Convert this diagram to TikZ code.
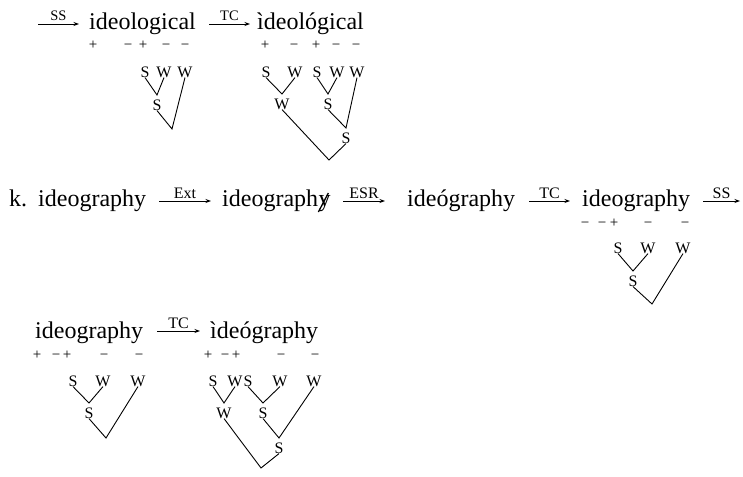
\documentclass[tikz,border=0pt]{standalone}
\usepackage{fontspec}
\setmainfont{Liberation Serif}
\newfontfamily\lblfont{Liberation Serif}
\usetikzlibrary{arrows.meta,calc}
\begin{document}
\begin{tikzpicture}[x=1pt,y=-1pt,
  word/.style={anchor=base west,inner sep=0pt,font=\fontsize{24}{28}\selectfont},
  sgn/.style={anchor=base,inner sep=0pt,font=\lblfont\fontsize{15}{17}\selectfont},
  lab/.style={inner sep=0pt,font=\lblfont\fontsize{16}{18}\selectfont},
  edge/.style={line width=0.9pt},
  rel/.style={line width=0.8pt,-{Stealth[length=5.5pt,width=4pt]}},
  rlaba/.style={anchor=base,inner sep=0pt,yshift=3pt,font=\fontsize{14.5}{16}\selectfont},
  rlabb/.style={anchor=base,inner sep=0pt,yshift=3pt,font=\fontsize{16}{18}\selectfont},
]
\useasboundingbox (0,0) rectangle (743,476);

% ---------- row 1 ----------
\coordinate (r1a0) at (38,24); \coordinate (r1a1) at (79,24);
\draw[rel] (r1a0) -- node[rlaba] (l1) {SS} (r1a1);
\node[word] (w11) at (89,30) {ideological};
\coordinate (r1b0) at (209,24); \coordinate (r1b1) at (250,24);
\draw[rel] (r1b0) -- node[rlaba] (l2) {TC} (r1b1);
\node[word] (w12) at (257,30) {ìdeológical};

\foreach \x/\s [count=\i] in {93/+,128/−,143/+,166/−,185/−}
  \node[sgn] (sA\i) at (\x,50) {\s};
\foreach \x/\s [count=\i] in {265/+,294/−,316/+,336/−,356/−}
  \node[sgn] (sB\i) at (\x,50) {\s};

% tree A
\node[lab] (a1) at (145,72) {S};
\node[lab] (a2) at (164,72) {W};
\node[lab] (a3) at (185,72) {W};
\coordinate (av1) at (157,95);
\node[lab] (a4) at (157,105) {S};
\coordinate (av2) at (172,129);
\draw[edge] (a1.south) -- (av1) -- (a2.south);
\draw[edge] (a4.south) -- (av2) -- (a3.south);

% tree B
\node[lab] (b1) at (266,72) {S};
\node[lab] (b2) at (295,72) {W};
\node[lab] (b3) at (317,72) {S};
\node[lab] (b4) at (337,72) {W};
\node[lab] (b5) at (357,72) {W};
\coordinate (bv1) at (282,94);
\node[lab] (b6) at (282,104) {W};
\coordinate (bv2) at (328,94);
\node[lab] (b7) at (328,104) {S};
\coordinate (bv3) at (346,128);
\node[lab] (b8) at (346,138) {S};
\coordinate (broot) at (329,160);
\draw[edge] (b1.south) -- (bv1) -- (b2.south);
\draw[edge] (b3.south) -- (bv2) -- (b4.south);
\draw[edge] (b7.south) -- (bv3) -- (b5.south);
\draw[edge] (b6.south) -- (broot) -- (b8.south);

% ---------- row 2 ----------
\node[word] (kk) at (9,206) {k.};
\node[word] (w21) at (38,206) {ideography};
\coordinate (r2a0) at (159,201); \coordinate (r2a1) at (211,201);
\draw[rel] (r2a0) -- node[rlabb] (l3) {Ext} (r2a1);
\node[word] (w22) at (222,206) {ideograph};
\node[word] (w22y) at (w22.base east) {y};
\draw[line width=1.3pt] ($(w22y.base west)+(0,6)$) -- ($(w22y.base west)+(10,-13)$);
\coordinate (r2b0) at (343,201); \coordinate (r2b1) at (385,201);
\draw[rel] (r2b0) -- node[rlabb] (l4) {ESR} (r2b1);
\node[word] (w23) at (407,206) {ideógraphy};
\coordinate (r2c0) at (529,201); \coordinate (r2c1) at (570,201);
\draw[rel] (r2c0) -- node[rlabb] (l5) {TC} (r2c1);
\node[word] (w24) at (582,206) {ideography};
\coordinate (r2d0) at (703,201); \coordinate (r2d1) at (740,201);
\draw[rel] (r2d0) -- node[rlabb] (l6) {SS} (r2d1);

\foreach \x/\s [count=\i] in {585/−,602/−,614/+,648/−,685/−}
  \node[sgn] (sC\i) at (\x,227) {\s};

% tree C
\node[lab] (c1) at (618,248) {S};
\node[lab] (c2) at (648,248) {W};
\node[lab] (c3) at (683,248) {W};
\coordinate (cv1) at (633,271);
\node[lab] (c4) at (633,281) {S};
\coordinate (croot) at (652,304);
\draw[edge] (c1.south) -- (cv1) -- (c2.south);
\draw[edge] (c4.south) -- (croot) -- (c3.south);

% ---------- row 3 ----------
\node[word] (w31) at (35,338) {ideography};
\coordinate (r3a0) at (157,331); \coordinate (r3a1) at (200,331);
\draw[rel] (r3a0) -- node[rlabb] (l7) {TC} (r3a1);
\node[word] (w32) at (210,338) {ìdeógraphy};

\foreach \x/\s [count=\i] in {37/+,56/−,67/+,104/−,139/−}
  \node[sgn] (sD\i) at (\x,359) {\s};
\foreach \x/\s [count=\i] in {208/+,225/−,236/+,281/−,315/−}
  \node[sgn] (sE\i) at (\x,359) {\s};

% tree D
\node[lab] (d1) at (73,381) {S};
\node[lab] (d2) at (103,381) {W};
\node[lab] (d3) at (138,381) {W};
\coordinate (dv1) at (89,403);
\node[lab] (d4) at (89,413) {S};
\coordinate (droot) at (106,438);
\draw[edge] (d1.south) -- (dv1) -- (d2.south);
\draw[edge] (d4.south) -- (droot) -- (d3.south);

% tree E
\node[lab] (e1) at (213,381) {S};
\node[lab] (e2) at (235,381) {W};
\node[lab] (e3) at (248,381) {S};
\node[lab] (e4) at (280,381) {W};
\node[lab] (e5) at (314,381) {W};
\coordinate (ev1) at (224,403);
\node[lab] (e6) at (224,413) {W};
\coordinate (ev2) at (263,403);
\node[lab] (e7) at (263,413) {S};
\coordinate (ev3) at (279,438);
\node[lab] (e8) at (279,448) {S};
\coordinate (eroot) at (261,468);
\draw[edge] (e1.south) -- (ev1) -- (e2.south);
\draw[edge] (e3.south) -- (ev2) -- (e4.south);
\draw[edge] (e7.south) -- (ev3) -- (e5.south);
\draw[edge] (e6.south) -- (eroot) -- (e8.south);
\end{tikzpicture}
\end{document}
